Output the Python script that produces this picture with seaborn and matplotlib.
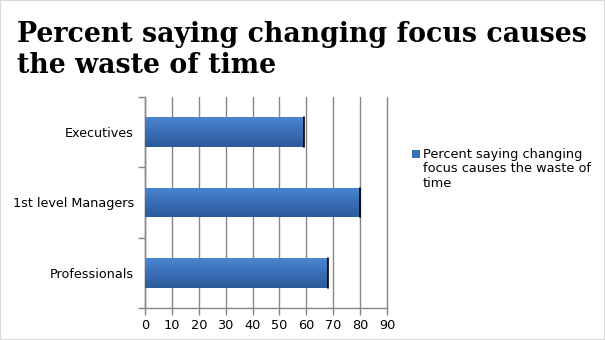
import matplotlib
matplotlib.use("Agg")
import matplotlib.pyplot as plt
import seaborn as sns
import pandas as pd
import numpy as np
from matplotlib.patches import Rectangle
from matplotlib.colors import LinearSegmentedColormap

categories = ["Executives", "1st level Managers", "Professionals"]
values = [59, 80, 68]
series_name = "Percent saying changing focus causes the waste of time"
xticks = [0, 10, 20, 30, 40, 50, 60, 70, 80, 90]

df = pd.DataFrame({"category": categories, "value": values})

sns.set_style("white")
plt.rcParams['font.family'] = ['DejaVu Sans']
plt.rcParams['text.color'] = 'black'
plt.rcParams['xtick.color'] = 'black'
plt.rcParams['ytick.color'] = 'black'

fig = plt.figure(figsize=(6.05, 3.4), dpi=100)
fig.patches.append(Rectangle((0, 0), 1, 1, transform=fig.transFigure,
                             fill=False, edgecolor="#d9d9d9", linewidth=1.5))
ax = fig.add_axes([145/605, 1-308/340, (387-145)/605, (308-97)/340])

sns.barplot(data=df, y="category", x="value", orient="h", color="#3a6fb8",
            width=0.42, saturation=1, ax=ax, zorder=3)
cmap = LinearSegmentedColormap.from_list("g", ["#4a85d0", "#3a6fb8", "#2d5a98"])
grad = np.linspace(0, 1, 64).reshape(-1, 1)
for p in list(ax.patches):
    p.set_edgecolor("none")
    x0, y0 = p.get_x(), p.get_y()
    w, h = p.get_width(), p.get_height()
    im = ax.imshow(grad, cmap=cmap, aspect="auto", extent=[x0, x0 + w, y0 + h, y0],
                   zorder=3.5, interpolation="bilinear")
    im.set_clip_path(p)
    ax.plot([x0 + w, x0 + w], [y0, y0 + h], color="black", lw=1.2, zorder=4)

ax.set_xlim(0, 90)
ax.set_ylim(2.5, -0.5)
ax.set_xticks(xticks)
ax.set_xticklabels([str(t) for t in xticks], fontsize=9.3)
ax.set_yticks([-0.5, 0.5, 1.5, 2.5], minor=False)
ax.set_yticklabels([])
ax.set_yticks([0, 1, 2], minor=True)
ax.set_yticklabels(categories, minor=True, fontsize=9.2)
ax.tick_params(axis="y", which="major", length=5, color="#868686", width=1, direction="out", left=True)
ax.tick_params(axis="y", which="minor", length=0, pad=8)
ax.tick_params(axis="x", length=5, color="#868686", width=1, direction="out", bottom=True, pad=3)
ax.xaxis.grid(True, color="#868686", lw=1, zorder=0)
for gl in ax.get_xgridlines():
    gl.set_clip_on(False)
ax.set_axisbelow(True)
ax.set_xlabel("")
ax.set_ylabel("")
for s in ["top", "right"]:
    ax.spines[s].set_visible(False)
for s in ["left", "bottom"]:
    ax.spines[s].set_color("#868686")
    ax.spines[s].set_linewidth(1)

fig.text(17/605, 1-21/340, "Percent saying changing focus causes\nthe waste of time",
         fontsize=19.3, fontweight="bold", family="DejaVu Serif", va="top", ha="left",
         linespacing=1.2, color="black")

fig.patches.append(Rectangle((412/605, 1-158/340), 8/605, 8/340, transform=fig.transFigure,
                             facecolor="#3a6fb8", edgecolor="none"))
fig.text(423/605, 1-148/340, "Percent saying changing\nfocus causes the waste of\ntime",
         fontsize=9.3, va="top", ha="left", linespacing=1.15)

fig.savefig("out.png", dpi=100)
